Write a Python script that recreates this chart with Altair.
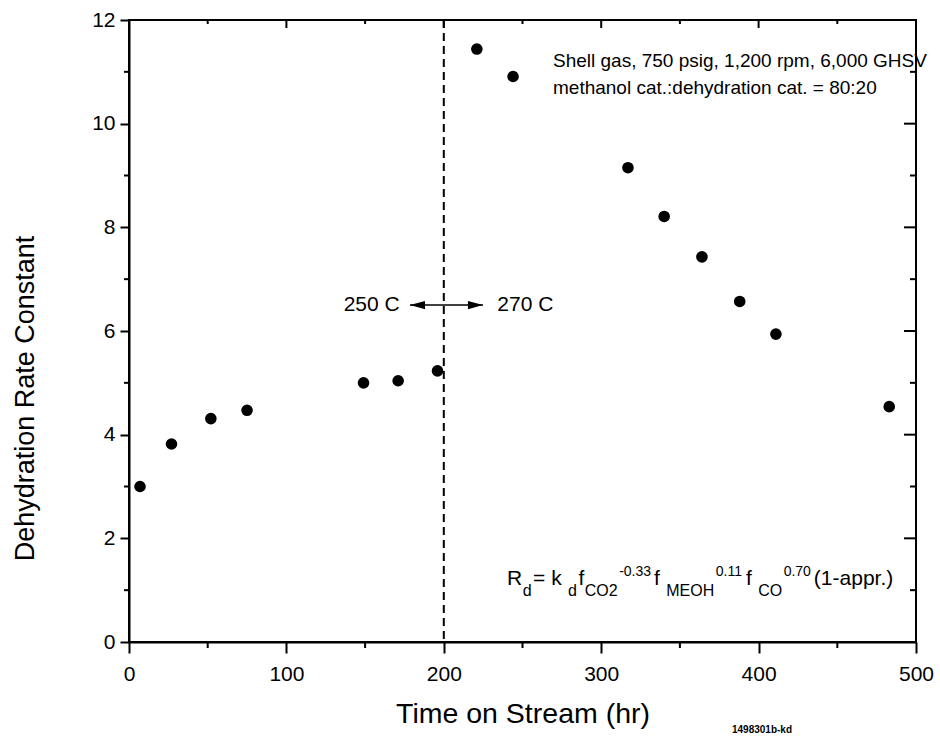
import altair as alt
import pandas as pd

# ---------------- data ----------------
time_hr = [7, 27, 52, 75, 149, 171, 196, 221, 244, 317, 340, 364, 388, 411, 483]
rate_const = [3.0, 3.82, 4.31, 4.47, 5.0, 5.04, 5.23, 11.44, 10.91, 9.15, 8.21, 7.43, 6.57, 5.94, 4.54]

x_major = [0, 100, 200, 300, 400, 500]
x_minor = [50, 150, 250, 350, 450]
y_major = [0, 2, 4, 6, 8, 10, 12]
y_minor = [1, 3, 5, 7, 9, 11]
y_right_major = [2, 4, 6, 8, 10]

temp_switch = [200]
temp_labels = ["250 C", "270 C"]
temp_label_x = [172, 234]
arrow_span = [178.5, 224.9]
arrow_level = [6.5]
arrow_head_x = [183.3, 220.1]

info_lines = ["Shell gas, 750 psig, 1,200 rpm, 6,000 GHSV",
              "methanol cat.:dehydration cat. = 80:20"]
stamp = "1498301b-kd"

# ---------------- layout ----------------
W, H = 787, 622
PAD_L, PAD_T = 129, 20
FONT = "Liberation Sans"

xs = alt.Scale(domain=[0, 500], nice=False, zero=False)
ys = alt.Scale(domain=[0, 12], nice=False, zero=False)
one = pd.DataFrame({"a": [0]})

AX = alt.Axis(
    values=x_major, format="d", title="Time on Stream (hr)",
    tickSize=11, tickWidth=2, tickColor="black",
    domainColor="black", domainWidth=2,
    labelFont=FONT, labelFontSize=21, labelColor="black", labelPadding=10,
    labelFlush=False, grid=False,
    titleFont=FONT, titleFontSize=28.5, titleFontWeight="normal", titleColor="black",
    titleY=80, titleBaseline="alphabetic")
AY = alt.Axis(
    values=y_major, format="d", title="Dehydration Rate Constant",
    tickSize=9, tickWidth=2, tickColor="black",
    domainColor="black", domainWidth=2,
    labelFont=FONT, labelFontSize=21, labelColor="black", labelPadding=5,
    grid=False,
    titleFont=FONT, titleFontSize=27, titleFontWeight="normal", titleColor="black",
    titleAngle=270, titleX=-96, titleY=378, titleAlign="center",
    titleBaseline="alphabetic")


def X(field):
    return alt.X(field, scale=xs, axis=AX)


def Y(field):
    return alt.Y(field, scale=ys, axis=AY)


points = alt.Chart(pd.DataFrame({"t": time_hr, "k": rate_const})).mark_circle(
    size=135, color="black", opacity=1
).encode(x=X("t:Q"), y=Y("k:Q"))


def xticks(vals, y0, y1):
    return alt.Chart(pd.DataFrame({"t": vals})).mark_rule(color="black", strokeWidth=2).encode(
        x=X("t:Q"), y=alt.value(y0), y2=alt.value(y1))


def yticks(vals, x0, x1):
    return alt.Chart(pd.DataFrame({"k": vals})).mark_rule(color="black", strokeWidth=2).encode(
        y=Y("k:Q"), x=alt.value(x0), x2=alt.value(x1))


tick_layers = [
    xticks(x_minor, H, H + 6),          # bottom minor
    yticks(y_minor, -5, 0),             # left minor
    yticks(y_right_major, W - 12, W),   # right major (inward)
    yticks(y_minor, W - 6, W),          # right minor (inward)
    xticks(x_major[1:-1], 0, 8),        # top major (inward)
    xticks(x_minor, 0, 4),              # top minor (inward)
]

divider = alt.Chart(pd.DataFrame({"t": temp_switch})).mark_rule(
    color="black", strokeWidth=2, strokeDash=[8, 5]
).encode(x=X("t:Q"), y=alt.value(0), y2=alt.value(H))

arrow_line = alt.Chart(pd.DataFrame({"t": [arrow_span[0]], "t2": [arrow_span[1]], "k": arrow_level})).mark_rule(
    color="black", strokeWidth=1.5
).encode(x=X("t:Q"), x2="t2:Q", y=Y("k:Q"))

heads = pd.DataFrame({
    "t": arrow_head_x,
    "k": arrow_level * 2,
    "shape": ["M1,-0.55L-1,0L1,0.55Z", "M-1,-0.55L1,0L-1,0.55Z"],
})
arrow_heads = alt.Chart(heads).mark_point(filled=True, size=225, color="black", opacity=1).encode(
    x=X("t:Q"), y=Y("k:Q"), shape=alt.Shape("shape:N", scale=None))

tl = pd.DataFrame({"t": temp_label_x, "k": arrow_level * 2, "label": temp_labels})
temp_left = alt.Chart(tl.iloc[[0]]).mark_text(align="right", baseline="middle", font=FONT,
                                              fontSize=21, color="black").encode(
    x=X("t:Q"), y=Y("k:Q"), text="label:N")
temp_right = alt.Chart(tl.iloc[[1]]).mark_text(align="left", baseline="middle", font=FONT,
                                               fontSize=21, color="black").encode(
    x=X("t:Q"), y=Y("k:Q"), text="label:N")


def label(txt, px, py, fs, weight="normal"):
    return alt.Chart(one).mark_text(text=txt, align="left", baseline="alphabetic", font=FONT,
                                    fontSize=fs, fontWeight=weight, color="black").encode(
        x=alt.value(px - PAD_L), y=alt.value(py - PAD_T))


info = [label(info_lines[0], 553, 67, 19), label(info_lines[1], 553, 94, 19)]

# equation R_d = k_d f_CO2^-0.33 f_MEOH^0.11 f_CO^0.70 (1-appr.)
CW = {"R": .722, "d": .556, " ": .278, "=": .584, "k": .5, "f": .278, "C": .722, "O": .778,
      "2": .556, "-": .333, "0": .556, ".": .278, "3": .556, "M": .833, "E": .667, "H": .722,
      "1": .556, "7": .556, "(": .333, ")": .333, "a": .556, "p": .556, "r": .333}
SIZE = {"m": 21, "b": 16, "p": 14}
BASEL = {"m": 585, "b": 596, "p": 576}
GAP = {"m": 0.5, "b": 1.5, "p": 3}
eq_parts = [("R", "m"), ("d", "b"), (" = k", "m"), ("d", "b"), ("f", "m"), ("CO2", "b"),
            ("-0.33", "p"), (" f", "m"), ("MEOH", "b"), ("0.11", "p"), (" f", "m"),
            ("CO", "b"), ("0.70", "p"), ("(1-appr.)", "m")]
equation = []
cx = 507
for txt, kind in eq_parts:
    fs = SIZE[kind]
    equation.append(label(txt, cx, BASEL[kind], fs))
    cx += sum(CW[c] for c in txt) * fs + GAP[kind]

stamp_layer = label(stamp, 732, 733, 10, "bold")

chart = alt.layer(
    points, *tick_layers, divider, arrow_line, arrow_heads, temp_left, temp_right,
    *info, *equation, stamp_layer,
).properties(
    width=W, height=H,
    autosize=alt.AutoSizeParams(type="none"),
    padding={"left": PAD_L, "top": PAD_T, "right": 940 - PAD_L - W, "bottom": 736 - PAD_T - H},
    background="white",
).configure_view(stroke="black", strokeWidth=2)

chart.save("out.html", embed_options={"renderer": "svg", "actions": False})
